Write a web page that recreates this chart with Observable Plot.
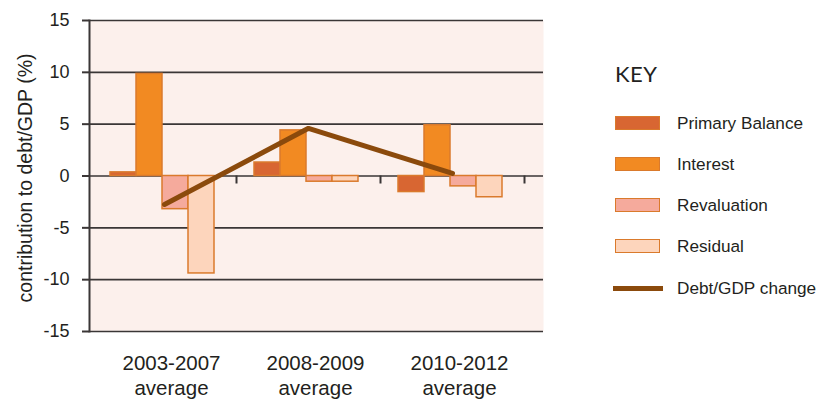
<!DOCTYPE html>
<html>
<head>
<meta charset="utf-8">
<script src="https://cdn.jsdelivr.net/npm/d3@7"></script>
<script src="https://cdn.jsdelivr.net/npm/@observablehq/plot@0.6"></script>
<style>
  body { margin: 0; background: #fff; font-family: "Liberation Sans", Arial, sans-serif; }
  #wrap { position: relative; width: 822px; height: 400px; }
  #wrap svg { position: absolute; left: 0; top: 0; }
  #legend { position: absolute; left: 0; top: 0; width: 822px; height: 400px; pointer-events: none; }
  .key { position: absolute; left: 615px; top: 60px; font-family: Lato, "Open Sans", sans-serif; font-size: 22px; color: #231f20; letter-spacing: 0.5px; }
  .item { position: absolute; left: 613px; height: 20px; display: flex; align-items: center; }
  .sw { width: 43px; height: 12px; margin-left: 2px; border: 1.5px solid #da7a2c; }
  .ln { width: 50px; height: 5px; }
  .lab { position: absolute; left: 64px; white-space: nowrap; font-size: 17.2px; color: #231f20; }
</style>
</head>
<body>
<div id="wrap"><div id="legend"></div></div>
<script>
// ---- data ----
const categories = ["2003-2007", "2008-2009", "2010-2012"];
const categoryLabels = ["2003-2007\naverage", "2008-2009\naverage", "2010-2012\naverage"];
const series = ["Primary Balance", "Interest", "Revaluation", "Residual"];
const primaryBalance = [0.35, 1.3, -1.55];
const interest = [9.85, 4.4, 4.9];
const revaluation = [-3.2, -0.55, -1.0];
const residual = [-9.4, -0.55, -2.05];
const debtGdpChange = [-2.75, 4.6, 0.25];
const yTicks = [-15, -10, -5, 0, 5, 10, 15];
const seriesColors = ["#d86632", "#f28a22", "#f5aa9c", "#fdd5bc"];
const lineColor = "#8b4a0c";
const lineLabel = "Debt/GDP change";

// ---- table built from arrays ----
const seriesValues = [primaryBalance, interest, revaluation, residual];
const bars = [];
categories.forEach((c, i) => series.forEach((s, j) => bars.push({cat: c, series: s, value: seriesValues[j][i]})));
const lineData = categories.map((c, i) => ({cat: c, value: debtGdpChange[i]}));

// ---- layout ----
const W = 822, H = 400;
const frameLeft = 89, frameRight = 543, plotTop = 20, plotBottom = 331;
const bandLeft = 92, bandRight = 524;
const bandStep = (bandRight - bandLeft) / categories.length;
const yScale = {domain: [-15, 15], range: [plotBottom, plotTop]};
const font = "Liberation Sans, Arial, sans-serif";

// Layer A: background, grid, axes, labels
const layerA = Plot.plot({
  width: W, height: H,
  marginLeft: frameLeft, marginRight: W - frameRight, marginTop: plotTop, marginBottom: H - plotBottom,
  style: {fontFamily: font, background: "transparent", color: "#231f20"},
  x: {type: "point", domain: categories, range: [bandLeft, bandRight], padding: 0.5, axis: null},
  y: {...yScale, axis: null},
  marks: [
    Plot.frame({fill: "#fcf0ec", stroke: null}),
    Plot.ruleY(yTicks, {stroke: "#3a3636", strokeWidth: 1.6}),
    Plot.ruleX(categories, {x: d => d, y1: 0, y2: 0, insetBottom: -8, dx: bandStep / 2, stroke: "#3a3636", strokeWidth: 2}),
    Plot.frame({anchor: "left", stroke: "#3a3636", strokeWidth: 2}),
    Plot.axisY(yTicks, {anchor: "left", tickSize: 7, tickPadding: 13, tickFormat: d => String(d), fontSize: 18, stroke: "#3a3636", strokeWidth: 2}),
    Plot.text(["contribution to debt/GDP (%)"], {frameAnchor: "left", textAnchor: "middle", lineAnchor: "middle", rotate: -90, dx: -64, dy: 2, fontSize: 19.5, fill: "#231f20"}),
    Plot.text(categories, {x: d => d, text: (d, i) => categoryLabels[i], frameAnchor: "bottom", lineAnchor: "top", dy: 20, dx: 7, lineHeight: 1.25, fontSize: 20.5, fill: "#231f20"})
  ]
});

// Layer B: grouped bars (faceted by category)
const layerB = Plot.plot({
  width: W, height: H,
  marginLeft: bandLeft, marginRight: W - bandRight, marginTop: plotTop, marginBottom: H - plotBottom,
  style: {background: "transparent"},
  fx: {domain: categories, padding: 0, axis: null},
  x: {domain: series, paddingInner: 0, paddingOuter: 0.667, align: 0.45, axis: null},
  y: {...yScale, axis: null},
  color: {domain: series, range: seriesColors},
  marks: [
    Plot.barY(bars, {fx: "cat", x: "series", y: "value", fill: "series", stroke: "#da7a2c", strokeWidth: 1.5})
  ]
});

// Layer C: Debt/GDP change line
const layerC = Plot.plot({
  width: W, height: H,
  marginLeft: bandLeft, marginRight: W - bandRight, marginTop: plotTop, marginBottom: H - plotBottom,
  style: {background: "transparent"},
  x: {type: "point", domain: categories, padding: 0.5, axis: null},
  y: {...yScale, axis: null},
  marks: [
    Plot.line(lineData, {x: "cat", y: "value", stroke: lineColor, strokeWidth: 5, strokeLinejoin: "miter"})
  ]
});

const wrap = document.getElementById("wrap");
wrap.insertBefore(layerC, wrap.firstChild);
wrap.insertBefore(layerB, wrap.firstChild);
wrap.insertBefore(layerA, wrap.firstChild);

// ---- legend ----
const legend = document.getElementById("legend");
const key = document.createElement("div");
key.className = "key"; key.textContent = "KEY";
legend.appendChild(key);
const itemTops = [113, 154, 195, 236, 278];
series.forEach((s, i) => {
  const it = document.createElement("div");
  it.className = "item"; it.style.top = itemTops[i] + "px";
  const sw = document.createElement("div");
  sw.className = "sw"; sw.style.background = seriesColors[i];
  const lab = document.createElement("span");
  lab.className = "lab"; lab.textContent = s;
  it.appendChild(sw); it.appendChild(lab);
  legend.appendChild(it);
});
{
  const it = document.createElement("div");
  it.className = "item"; it.style.top = itemTops[4] + "px";
  const ln = document.createElement("div");
  ln.className = "ln"; ln.style.background = lineColor;
  const lab = document.createElement("span");
  lab.className = "lab"; lab.textContent = lineLabel;
  it.appendChild(ln); it.appendChild(lab);
  legend.appendChild(it);
}
</script>
</body>
</html>
